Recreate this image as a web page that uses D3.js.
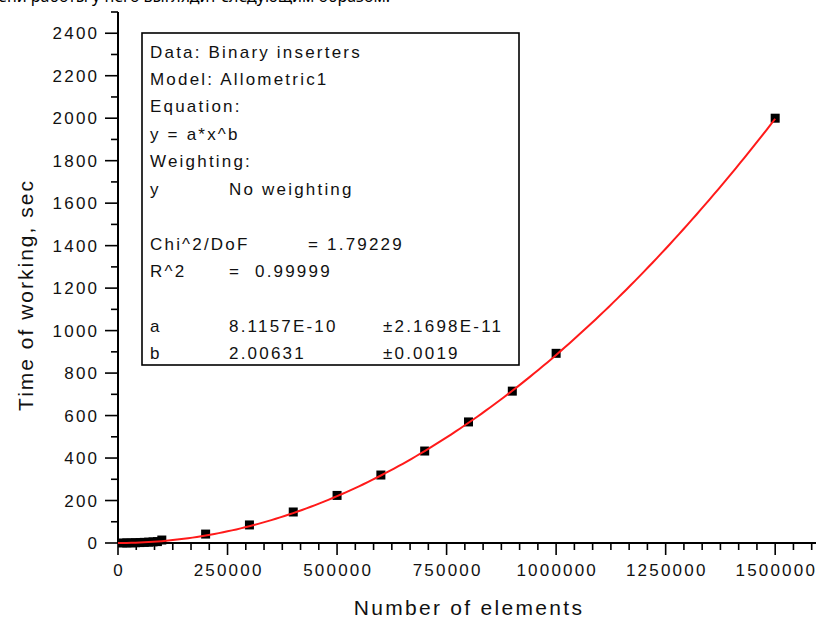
<!DOCTYPE html>
<html>
<head>
<meta charset="utf-8">
<script src="https://cdn.jsdelivr.net/npm/d3@7"></script>
<style>
  html, body { margin: 0; padding: 0; background: #fff; overflow: hidden; }
  svg { display: block; }
  text { font-family: "Liberation Sans", Arial, sans-serif; fill: #111; }
</style>
</head>
<body>
<svg id="chart" width="816" height="621"></svg>
<script>
// Measured run time of the binary inserter versus input size
const elementCounts = [10000, 20000, 30000, 40000, 50000, 60000, 70000, 80000, 90000, 100000,
  200000, 300000, 400000, 500000, 600000, 700000, 800000, 900000, 1000000, 1500000];
const workTimes = [0.1, 0.3, 0.7, 1.3, 2.0, 3.0, 4.0, 5.3, 6.6, 14,
  42, 85, 146, 224, 320, 433, 570, 715, 893, 2000];

// Allometric1 fit parameters: y = a * x^b
const fitA = 8.1157e-10;
const fitB = 2.00631;

// Axis ticks
const xMajorTicks = [0, 250000, 500000, 750000, 1000000, 1250000, 1500000];
const yMajorTicks = [0, 200, 400, 600, 800, 1000, 1200, 1400, 1600, 1800, 2000, 2200, 2400];

// Fit report lines, one entry per column
const reportRows = [
  ["Data: Binary inserters"],
  ["Model: Allometric1"],
  ["Equation:"],
  ["y = a*x^b"],
  ["Weighting:"],
  ["y", "No weighting"],
  [],
  ["Chi^2/DoF", null, "= 1.79229"],
  ["R^2", "=  0.99999"],
  [],
  ["a", "8.1157E-10", null, "±2.1698E-11"],
  ["b", "2.00631", null, "±0.0019"]
];

const headerText = "График времени работы у него выглядит следующим образом:";

const svg = d3.select("#chart");
const LS = 2.2; // letter spacing of chart text
const FS = 17;  // chart text size

const x = d3.scaleLinear().domain([0, 1600000]).range([118, 819]);
const y = d3.scaleLinear().domain([0, 2500]).range([543, 12]);

// header line from the surrounding document, mostly cut off at the top
svg.append("text")
  .attr("x", 390).attr("y", 2)
  .attr("text-anchor", "end")
  .style("font-family", "'Noto Sans', sans-serif")
  .style("font-size", "16px")
  .style("fill", "#000")
  .text(headerText);

// ---- Y axis ----
const yAxis = svg.append("g").attr("transform", "translate(118,0)");
yAxis.append("line").attr("x1", 0).attr("x2", 0).attr("y1", y(2500)).attr("y2", y(0))
  .attr("stroke", "#000").attr("stroke-width", 2);
const yMinor = d3.range(100, 2600, 200);
yAxis.selectAll("line.ymin").data(yMinor).join("line").attr("class", "ymin")
  .attr("x1", -7).attr("x2", 0).attr("y1", d => y(d)).attr("y2", d => y(d))
  .attr("stroke", "#000").attr("stroke-width", 1.6);
yAxis.selectAll("line.ymaj").data(yMajorTicks).join("line").attr("class", "ymaj")
  .attr("x1", -13).attr("x2", 0).attr("y1", d => y(d)).attr("y2", d => y(d))
  .attr("stroke", "#000").attr("stroke-width", 1.6);
yAxis.selectAll("text").data(yMajorTicks).join("text")
  .attr("x", -21 + LS).attr("y", d => y(d) + 6)
  .attr("text-anchor", "end")
  .style("font-size", FS + "px").style("letter-spacing", LS + "px")
  .text(d => d);

// ---- X axis ----
const xAxis = svg.append("g").attr("transform", "translate(0,543)");
xAxis.append("line").attr("x1", x(0)).attr("x2", x(1600000)).attr("y1", 0).attr("y2", 0)
  .attr("stroke", "#000").attr("stroke-width", 2);
const xMinor = d3.range(0, 1600001, 250000 / 6).filter(v => Math.round(v) % 250000 !== 0);
xAxis.selectAll("line.xmin").data(xMinor).join("line").attr("class", "xmin")
  .attr("x1", d => x(d)).attr("x2", d => x(d)).attr("y1", 0).attr("y2", 7)
  .attr("stroke", "#000").attr("stroke-width", 1.6);
xAxis.selectAll("line.xmaj").data(xMajorTicks).join("line").attr("class", "xmaj")
  .attr("x1", d => x(d)).attr("x2", d => x(d)).attr("y1", 0).attr("y2", 12)
  .attr("stroke", "#000").attr("stroke-width", 1.6);
xAxis.selectAll("text").data(xMajorTicks).join("text")
  .attr("x", d => x(d) + LS / 2).attr("y", 33)
  .attr("text-anchor", "middle")
  .style("font-size", FS + "px").style("letter-spacing", LS + "px")
  .text(d => d);

// ---- Axis titles ----
svg.append("text")
  .attr("x", 469).attr("y", 615)
  .attr("text-anchor", "middle")
  .style("font-size", "21px").style("letter-spacing", "2.3px")
  .text("Number of elements");
svg.append("text")
  .attr("transform", "translate(33,295) rotate(-90)")
  .attr("text-anchor", "middle")
  .style("font-size", "21px").style("letter-spacing", "2px")
  .text("Time of working, sec");

// ---- Data points ----
const pts = elementCounts.map((c, i) => ({ c, t: workTimes[i] }));
svg.append("g").selectAll("rect").data(pts).join("rect")
  .attr("x", d => x(d.c) - 4.5).attr("y", d => y(d.t) - 4.5)
  .attr("width", 9).attr("height", 9)
  .attr("fill", "#000");

// ---- Fit curve ----
const fitXs = d3.range(0, 1500001, 10000);
const fitLine = d3.line().x(v => x(v)).y(v => y(fitA * Math.pow(v, fitB)));
svg.append("path").datum(fitXs)
  .attr("d", fitLine)
  .attr("fill", "none").attr("stroke", "#ff1a1a").attr("stroke-width", 2);

// ---- Fit report box ----
const box = svg.append("g");
box.append("rect").attr("x", 142).attr("y", 33).attr("width", 377).attr("height", 332)
  .attr("fill", "#fff").attr("stroke", "#000").attr("stroke-width", 1.6);
const colX = [150, 229, 308, 383];
reportRows.forEach((row, i) => {
  row.forEach((cell, j) => {
    if (cell == null) return;
    box.append("text")
      .attr("x", colX[j]).attr("y", 51.5 + i * 27.45 + 6)
      .style("font-size", FS + "px").style("letter-spacing", LS + "px")
      .style("white-space", "pre")
      .text(cell);
  });
});
</script>
</body>
</html>
